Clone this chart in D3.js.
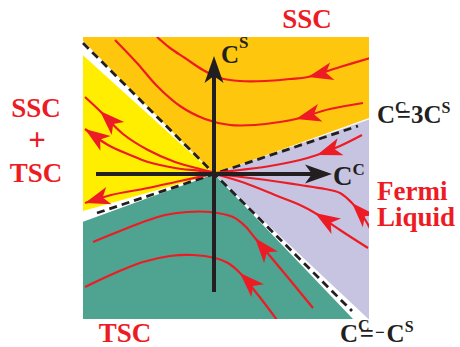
<!DOCTYPE html>
<html>
<head>
<meta charset="utf-8">
<script src="https://cdn.jsdelivr.net/npm/d3@7"></script>
<style>
body { margin: 0; background: #fff; }
svg { display: block; }
text { font-family: "Liberation Serif", "Times New Roman", serif; }
</style>
</head>
<body>
<script>
// couplings: x = C^C, y = C^S (one unit = 100 px)
// phase boundaries through the origin: C^C = 3C^S and C^C = -C^S
var boundaryDirs = [[3, 1], [-1, 1], [-3, -1], [1, -1]];
var phaseNames = ["SSC", "SSC+TSC", "TSC", "Fermi Liquid"];

// RG flow lines, listed in flow direction; arrowAt = index of the arrow tip
var flowSSC1 = [[1.49, 0.71], [1.16, 0.65], [0.82, 0.55], [0.66, 0.52], [0.41, 0.49], [0.16, 0.49],
	[-0.09, 0.55], [-0.34, 0.68], [-0.57, 0.88], [-0.77, 1.11], [-0.99, 1.34]];
var flowSSC2 = [[1.56, 1.16], [1.26, 1.07], [0.94, 0.97], [0.76, 0.95], [0.51, 0.93], [0.26, 0.93],
	[0.06, 0.96], [-0.11, 1.04], [-0.29, 1.16], [-0.44, 1.26], [-0.57, 1.37]];
var flowMix1 = [[-0.01, 0.02], [-0.14, 0.05], [-0.39, 0.12], [-0.66, 0.24], [-0.91, 0.40], [-1.14, 0.63], [-1.29, 0.77]];
var flowMix2 = [[-0.01, 0.01], [-0.14, 0.03], [-0.39, 0.06], [-0.66, 0.12], [-0.84, 0.19], [-1.06, 0.29], [-1.29, 0.45]];
var flowMix3 = [[-0.01, 0], [-0.34, -0.07], [-0.66, -0.14], [-1.03, -0.21], [-1.29, -0.29]];
var flowTSC1 = [[0.99, -1.34], [0.76, -1.06], [0.56, -0.82], [0.41, -0.64], [0.31, -0.52], [0.19, -0.43],
	[-0.04, -0.38], [-0.27, -0.38], [-0.49, -0.41], [-0.71, -0.48], [-0.94, -0.57], [-1.21, -0.68]];
var flowTSC2 = [[0.63, -1.46], [0.48, -1.26], [0.36, -1.11], [0.26, -0.99], [0.14, -0.89], [0.01, -0.84],
	[-0.21, -0.81], [-0.44, -0.82], [-0.71, -0.88], [-0.99, -0.99], [-1.29, -1.13]];
var flowFL1 = [[1.48, 0.39], [1.26, 0.28], [1.03, 0.19], [0.86, 0.14], [0.56, 0.08], [0.26, 0.04], [0.01, 0.01]];
var flowFL2 = [[1.58, -0.58], [1.50, -0.44], [1.38, -0.29], [1.26, -0.19], [1.11, -0.15], [0.86, -0.11],
	[0.66, -0.08], [0.36, -0.04], [0.01, 0]];
var flowFL3 = [[1.54, -0.74], [1.26, -0.56], [1.01, -0.39], [0.86, -0.31], [0.61, -0.21], [0.31, -0.09], [0.01, 0]];

var flows = [flowSSC1, flowSSC2, flowMix1, flowMix2, flowMix3, flowTSC1, flowTSC2, flowFL1, flowFL2, flowFL3];
var arrowAt = [2, 2, 5, 6, 4, 3, 3, 2, 2, 2];

// dashed phase boundary segments
var dashLines = [[[-1.31, 1.31], [1.38, -1.37]], [[-1.17, -0.39], [1.44, 0.48]]];
var axisExtent = [-1.18, 1.18];

// styles
var phaseColors = ["#fec60c", "#ffee00", "#4ea391", "#c6c4e1"];
// angular gaps (degrees) left white on each side of a boundary: [end of previous, start of next]
var gaps = [[0.9, 1.4], [-0.5, 2.8], [-2.7, 1.6], [-1.2, 1.8]];
var red = "#ed1c24", ink = "#231f20";

var W = 460, H = 347;
var x = d3.scaleLinear().domain([-1.31, 1.56]).range([83, 370]);
var y = d3.scaleLinear().domain([-1.45, 1.37]).range([319, 37]);

var svg = d3.select("body").append("svg")
	.attr("width", W)
	.attr("height", H);

svg.append("clipPath").attr("id", "box")
	.append("rect")
	.attr("x", x(-1.31)).attr("y", y(1.37))
	.attr("width", x(1.55) - x(-1.31))
	.attr("height", y(-1.45) - y(1.37));

var deg = 180 / Math.PI;
var bAngles = boundaryDirs.map(function(d) {
	var a = Math.atan2(d[1], d[0]) * deg;
	return a < 0 ? a + 360 : a;
});

// sector polygon between two angles (degrees), large radius, clipped to the box
function sector(a0, a1) {
	var pts = [[x(0), y(0)]], R = 6;
	var n = Math.ceil((a1 - a0) / 3);
	for (var i = 0; i <= n; i++) {
		var a = (a0 + (a1 - a0) * i / n) / deg;
		pts.push([x(R * Math.cos(a)), y(R * Math.sin(a))]);
	}
	return "M" + pts.join("L") + "Z";
}

var regions = svg.append("g").attr("clip-path", "url(#box)");
phaseNames.forEach(function(name, i) {
	var j = (i + 1) % 4;
	var a0 = bAngles[i] + gaps[i][1];
	var a1 = bAngles[j] + gaps[j][0];
	if (a1 < a0) a1 += 360;
	regions.append("path")
		.attr("class", "phase")
		.attr("d", sector(a0, a1))
		.attr("fill", phaseColors[i]);
});

// dashed boundaries
svg.append("g").selectAll("line")
	.data(dashLines)
	.enter().append("line")
	.attr("x1", function(d) { return x(d[0][0]); })
	.attr("y1", function(d) { return y(d[0][1]); })
	.attr("x2", function(d) { return x(d[1][0]); })
	.attr("y2", function(d) { return y(d[1][1]); })
	.attr("stroke", ink)
	.attr("stroke-width", 2.8)
	.attr("stroke-dasharray", "8,5");

// flow lines
var line = d3.line()
	.x(function(d) { return x(d[0]); })
	.y(function(d) { return y(d[1]); })
	.curve(d3.curveCatmullRom);

var flowG = svg.append("g").attr("clip-path", "url(#box)");
flowG.selectAll("path.flow")
	.data(flows)
	.enter().append("path")
	.attr("class", "flow")
	.attr("d", line)
	.attr("fill", "none")
	.attr("stroke", red)
	.attr("stroke-width", 2.2);

// axes
var axes = svg.append("g");
axes.append("line")
	.attr("x1", x(axisExtent[0])).attr("y1", y(0))
	.attr("x2", x(axisExtent[1]) - 16).attr("y2", y(0))
	.attr("stroke", ink).attr("stroke-width", 4);
axes.append("line")
	.attr("x1", x(0)).attr("y1", y(axisExtent[0]))
	.attr("x2", x(0)).attr("y2", y(axisExtent[1]) + 16)
	.attr("stroke", ink).attr("stroke-width", 4);

var bigHead = "M0,0L-27,-9.5L-20,0L-27,9.5Z";
axes.append("path").attr("d", bigHead).attr("fill", ink)
	.attr("transform", "translate(" + x(axisExtent[1]) + "," + y(0) + ")");
axes.append("path").attr("d", bigHead).attr("fill", ink)
	.attr("transform", "translate(" + x(0) + "," + y(axisExtent[1]) + ") rotate(-90)");

// red arrow heads
var head = "M0,0L-25,-9L-18.5,0L-25,9Z";
var arrowG = svg.append("g").attr("clip-path", "url(#box)");
flows.forEach(function(f, k) {
	var i = arrowAt[k];
	var p0 = f[Math.max(i - 1, 0)], p1 = f[Math.min(i + 1, f.length - 1)];
	var ang = Math.atan2(y(p1[1]) - y(p0[1]), x(p1[0]) - x(p0[0])) * deg;
	arrowG.append("path")
		.attr("d", head)
		.attr("fill", red)
		.attr("transform", "translate(" + x(f[i][0]) + "," + y(f[i][1]) + ") rotate(" + ang + ")");
});

// phase labels
function redLabel(txt, px, py, anchor, size) {
	svg.append("text")
		.attr("x", px).attr("y", py)
		.attr("text-anchor", anchor)
		.attr("font-weight", "bold")
		.attr("font-size", size || 27)
		.attr("fill", red)
		.text(txt);
}
redLabel("SSC", 307, 28, "middle");
redLabel("SSC", 36, 117, "middle");
redLabel("+", 37, 150, "middle", 31);
redLabel("TSC", 36, 182, "middle");
redLabel("TSC", 125, 342, "middle");
redLabel("Fermi", 377, 200, "start");
redLabel("Liquid", 377, 226, "start");

// black coupling labels: parts = [text, size, dx, dy]
function blackLabel(parts, px, py) {
	var t = svg.append("text")
		.attr("x", px).attr("y", py)
		.attr("font-weight", "bold")
		.attr("fill", ink);
	parts.forEach(function(p) {
		t.append("tspan")
			.attr("font-size", p[1])
			.attr("dx", p[2])
			.attr("dy", p[3])
			.text(p[0]);
	});
}
blackLabel([["C", 25, 0, 0], ["S", 17, 0, -15]], 221, 63);
blackLabel([["C", 27, 0, 0], ["C", 17, 0, -10]], 333, 185);
blackLabel([["C", 25, 0, 0], ["C", 16, 0, -10], ["=", 25, -10, 10], ["3C", 25, 0, 0], ["S", 16, 0, -10]], 377, 123);
blackLabel([["C", 25, 0, 0], ["C", 16, 0, -11], ["=", 25, -10, 11], ["\u2212", 17, 1, -4], ["C", 25, 2, 4], ["S", 16, 0, -10]], 340, 342);
</script>
</body>
</html>
